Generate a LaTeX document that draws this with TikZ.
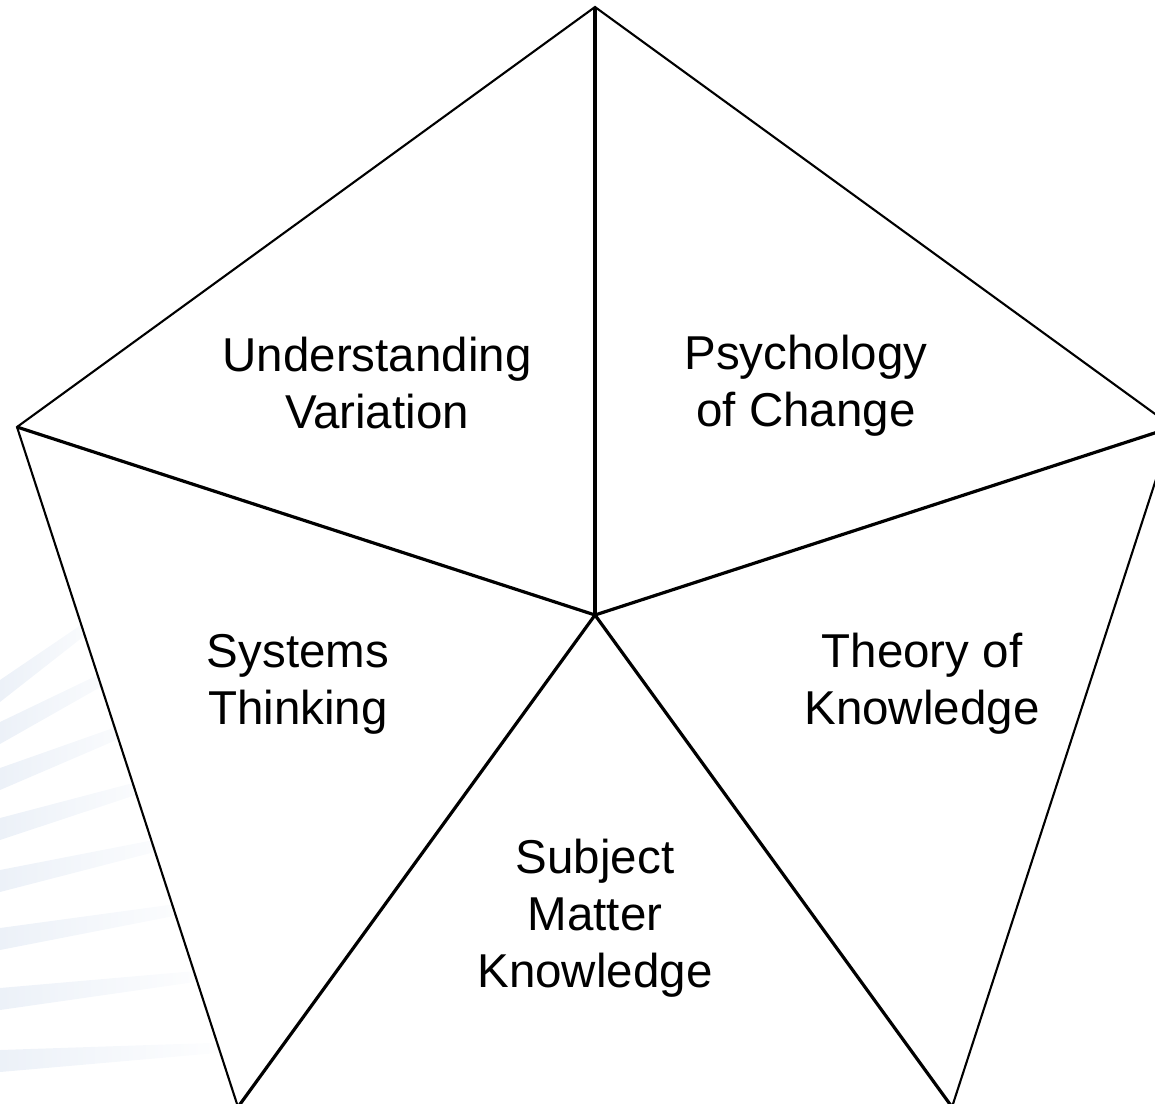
\documentclass[tikz,border=0pt]{standalone}
\usepackage{fontspec}
\setmainfont{Liberation Sans}
\definecolor{rayc}{RGB}{236,241,248}
\begin{document}
\begin{tikzpicture}[x=1pt,y=-1pt,
  edge/.style={black,line width=2.1pt,line join=miter},
  spoke/.style={black,line width=3.2pt},
  lbl/.style={align=center,inner sep=0pt,font=\fontsize{47.5}{57}\selectfont},
  band/.style={left color=rayc,right color=white,draw=none}]
\useasboundingbox (0,0) rectangle (1155,1103);
\clip (0,0) rectangle (1155,1103);
% faint background rays
\foreach \ya/\yb/\xr in {1050/1042/240, 988/968/230, 928/898/220, 870/830/205, 818/768/190, 768/708/170, 722/650/150, 680/595/125}{
  \shade[band] (0,\ya) -- (\xr,\yb) -- (\xr,\yb+9) -- (0,\ya+22) -- cycle;
}
% pentagon vertices
\coordinate (c) at (595,615);
\coordinate (t) at (595,7);
\coordinate (l) at (17,427);
\coordinate (r) at (1173,427);
\coordinate (bl) at (238,1107);
\coordinate (br) at (952,1107);
\fill[white] (t) -- (r) -- (br) -- (bl) -- (l) -- cycle;
\draw[edge] (t) -- (r) -- (br) -- (bl) -- (l) -- cycle;
\foreach \v in {t,r,br,bl,l}{ \draw[spoke] (c) -- (\v); }
% labels
\node[lbl] (uv) at (377,383) {Understanding\\Variation};
\node[lbl] (pc) at (806,386) {Psychology\\of Change};
\node[lbl] (st) at (298,684) {Systems\\Thinking};
\node[lbl] (tk) at (922,684) {Theory of\\Knowledge};
\node[lbl] (sm) at (595,918) {Subject\\Matter\\Knowledge};
\end{tikzpicture}
\end{document}
